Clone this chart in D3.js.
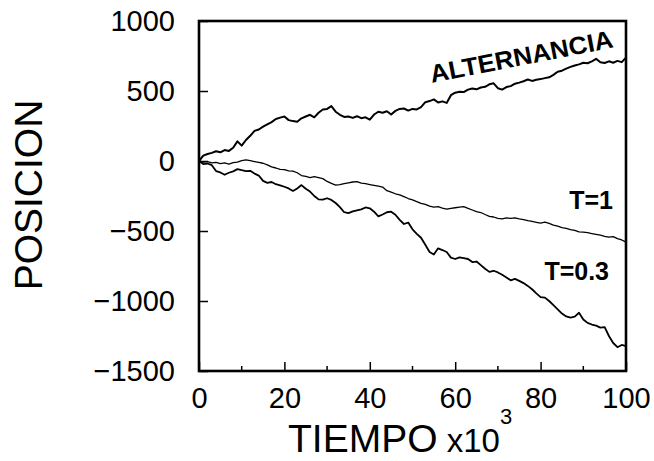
<!DOCTYPE html>
<html lang="es">
<head>
  <meta charset="UTF-8">
  <title>Posicion vs tiempo</title>
  <script src="https://d3js.org/d3.v7.min.js"></script>
  <style>
    body { margin: 0; background: #fff; }
    text { font-family: "Liberation Sans", Arial, sans-serif; fill: #000; }
  </style>
</head>
<body>
  <div id="chart"></div>
  <script>
    // tiempo en miles de pasos, 0..100
    var tiempo = d3.range(0, 101);

    var alternancia = [0, 38, 50, 58, 70, 62, 78, 72, 95, 140,
      110, 150, 180, 215, 225, 245, 262, 278, 300, 310,
      318, 292, 285, 280, 305, 318, 330, 312, 345, 368,
      372, 392, 352, 330, 315, 318, 308, 320, 306, 312,
      295, 332, 352, 345, 355, 332, 358, 372, 375, 360,
      372, 368, 385, 420, 428, 440, 418, 426, 415, 470,
      488, 495, 492, 510, 518, 512, 525, 530, 548, 555,
      520, 510, 528, 535, 552, 560, 570, 582, 572, 580,
      585, 592, 598, 615, 638, 645, 660, 672, 682, 690,
      702, 698, 712, 730, 705, 700, 712, 702, 715, 706, 738];

    var t1 = [0, -8, -4, -14, -10, -18, -14, -22, -12, -8,
      2, 8, 2, -4, -10, -16, -28, -42, -50, -60,
      -62, -70, -72, -84, -104, -110, -118, -112, -118, -126,
      -146, -160, -172, -168, -162, -156, -150, -148, -158, -162,
      -168, -174, -180, -186, -212, -222, -234, -242, -254, -268,
      -278, -290, -302, -310, -322, -330, -326, -336, -344, -338,
      -334, -330, -326, -338, -350, -362, -368, -382, -395, -400,
      -410, -414, -406, -410, -406, -414, -418, -426, -432, -438,
      -444, -436, -446, -458, -466, -476, -482, -490, -496, -506,
      -508, -512, -518, -524, -530, -538, -544, -540, -555, -564, -580];

    var t03 = [0, -22, -18, -30, -72, -82, -98, -84, -74, -58,
      -66, -72, -70, -90, -104, -142, -156, -150, -166, -174,
      -184, -196, -214, -196, -172, -198, -218, -250, -274, -276,
      -266, -278, -300, -330, -366, -372, -360, -352, -346, -332,
      -338, -362, -396, -382, -366, -362, -384, -420, -450, -440,
      -488, -520, -548, -598, -650, -668, -624, -636, -650, -690,
      -700, -688, -694, -700, -722, -718, -744, -770, -792, -784,
      -796, -812, -832, -852, -842, -856, -872, -892, -916, -946,
      -972, -976, -1000, -1030, -1060, -1090, -1110, -1118, -1112, -1084,
      -1132, -1156, -1168, -1176, -1190, -1186, -1250, -1300, -1330, -1314, -1322];

    var xTicks = [0, 20, 40, 60, 80, 100];
    var xMinor = [10, 30, 50, 70, 90];
    var yTicks = [1000, 500, 0, -500, -1000, -1500];

    var series = [
      { name: "ALTERNANCIA", values: alternancia, width: 2 },
      { name: "T=1", values: t1, width: 1.3 },
      { name: "T=0.3", values: t03, width: 1.8 }
    ];

    var W = 654, H = 461;
    // plot frame (avoid the global name "top")
    var pL = 199, pR = 626, pT = 21, pB = 371;

    var svg = d3.select("#chart").append("svg")
      .attr("width", W).attr("height", H);

    var x = d3.scaleLinear().domain([0, 100]).range([pL, pR]);
    var y = d3.scaleLinear().domain([-1500, 1000]).range([pB, pT]);

    // curves
    var line = d3.line()
      .x(function (d, i) { return x(tiempo[i]); })
      .y(function (d) { return y(d); });

    svg.selectAll("path.serie")
      .data(series)
      .enter()
      .append("path")
        .attr("class", "serie")
        .attr("fill", "none")
        .attr("stroke", "#000")
        .attr("stroke-width", function (d) { return d.width; })
        .attr("stroke-linejoin", "round")
        .attr("d", function (d) { return line(d.values); });

    // x axis, ticks pointing inward
    var xAxis = svg.append("g")
      .attr("transform", "translate(0," + pB + ")")
      .call(d3.axisBottom(x).tickValues(xTicks).tickSizeInner(-9).tickSizeOuter(0).tickPadding(16));
    xAxis.select(".domain").remove();
    xAxis.selectAll("line").attr("stroke-width", 1.5);
    xAxis.selectAll("text").style("font-size", "29px");

    svg.selectAll("line.minor")
      .data(xMinor)
      .enter()
      .append("line")
        .attr("class", "minor")
        .attr("x1", function (d) { return x(d); })
        .attr("x2", function (d) { return x(d); })
        .attr("y1", pB)
        .attr("y2", pB - 5)
        .attr("stroke", "#000")
        .attr("stroke-width", 1.5);

    // y axis
    var yAxis = svg.append("g")
      .attr("transform", "translate(" + pL + ",0)")
      .call(d3.axisLeft(y).tickValues(yTicks).tickFormat(d3.format("d"))
        .tickSizeInner(-9).tickSizeOuter(0).tickPadding(24));
    yAxis.select(".domain").remove();
    yAxis.selectAll("line").attr("stroke-width", 1.5);
    yAxis.selectAll("text").style("font-size", "29px");

    // frame
    svg.append("rect")
      .attr("x", pL).attr("y", pT)
      .attr("width", pR - pL).attr("height", pB - pT)
      .attr("fill", "none")
      .attr("stroke", "#000")
      .attr("stroke-width", 2.6);

    // axis titles
    var xt = svg.append("text")
      .attr("x", 288)
      .attr("y", 452);
    xt.append("tspan").style("font-size", "39px").text("TIEMPO");
    xt.append("tspan").style("font-size", "33px").text(" x10");
    xt.append("tspan").style("font-size", "22px").attr("dy", -28).text("3");

    svg.append("text")
      .attr("transform", "translate(42,195) rotate(-90)")
      .attr("text-anchor", "middle")
      .style("font-size", "39px")
      .text("POSICION");

    // curve labels
    svg.append("text")
      .attr("transform", "translate(523,65) rotate(-11)")
      .attr("text-anchor", "middle")
      .attr("textLength", 186)
      .attr("lengthAdjust", "spacingAndGlyphs")
      .style("font-size", "25px")
      .style("font-weight", "bold")
      .text("ALTERNANCIA");

    svg.append("text")
      .attr("x", 613).attr("y", 209)
      .attr("text-anchor", "end")
      .style("font-size", "25px")
      .style("font-weight", "bold")
      .text("T=1");

    svg.append("text")
      .attr("x", 609).attr("y", 280)
      .attr("text-anchor", "end")
      .style("font-size", "25px")
      .style("font-weight", "bold")
      .text("T=0.3");
  </script>
</body>
</html>
